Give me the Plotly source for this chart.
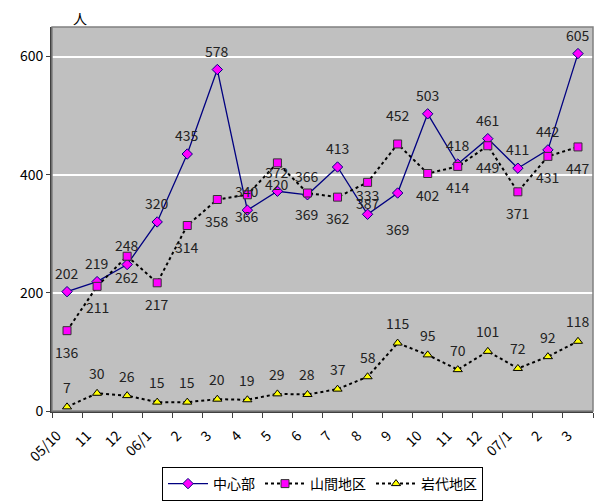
import plotly.graph_objects as go

# Monthly counts, Oct 2005 – Mar 2007
months = ["05/10", "11", "12", "06/1", "2", "3", "4", "5", "6", "7", "8", "9",
          "10", "11", "12", "07/1", "2", "3"]
center = [202, 219, 248, 320, 435, 578, 340, 372, 366, 413, 333, 369,
          503, 418, 461, 411, 442, 605]
mountain = [136, 211, 262, 217, 314, 358, 366, 420, 369, 362, 387, 452,
            402, 414, 449, 371, 431, 447]
iwashiro = [7, 30, 26, 15, 15, 20, 19, 29, 28, 37, 58, 115,
            95, 70, 101, 72, 92, 118]

FONT = "Noto Sans CJK JP"
xs = list(range(len(months)))

fig = go.Figure()
fig.add_trace(go.Scatter(
    x=xs, y=center, name="中心部", mode="lines+markers",
    line=dict(color="#000080", width=1.3),
    marker=dict(symbol="diamond", size=8, color="#FF00FF",
                line=dict(color="#000080", width=1)),
))
fig.add_trace(go.Scatter(
    x=xs, y=mountain, name="山間地区", mode="lines+markers",
    line=dict(color="#000000", width=2, dash="dot"),
    marker=dict(symbol="square", size=8, color="#FF00FF",
                line=dict(color="#333333", width=1)),
))
fig.add_trace(go.Scatter(
    x=xs, y=iwashiro, name="岩代地区", mode="lines+markers",
    line=dict(color="#000000", width=2, dash="dot"),
    marker=dict(symbol="triangle-up", size=8, color="#FFFF00",
                line=dict(color="#000000", width=1)),
))

# value labels: 中心部 above (one below), 山間地区 below (one above), 岩代地区 above
center_shift = [19] * len(center)
center_shift[11] = -36
mountain_shift = [-21] * len(mountain)
mountain_shift[11] = 29
annotations = []
for series, shifts in ((center, center_shift), (mountain, mountain_shift),
                       (iwashiro, [20] * len(iwashiro))):
    for x, v, s in zip(xs, series, shifts):
        annotations.append(dict(
            x=x, y=v, text=str(v), showarrow=False, yshift=s,
            font=dict(family=FONT, size=14, color="#222222"),
        ))

annotations.append(dict(
    xref="paper", yref="paper", x=0.052, y=1.023, text="人",
    showarrow=False, xanchor="center", yanchor="middle",
    font=dict(family=FONT, size=14, color="#000000"),
))

fig.update_layout(
    width=596, height=501,
    margin=dict(l=52, r=3, t=27, b=90, autoexpand=False),
    paper_bgcolor="#FFFFFF",
    plot_bgcolor="#C0C0C0",
    font=dict(family=FONT, size=14, color="#000000"),
    annotations=annotations,
    showlegend=True,
    legend=dict(
        orientation="h", x=0.5, xanchor="center",
        yref="container", y=0.0, yanchor="bottom",
        bgcolor="#FFFFFF", bordercolor="#000000", borderwidth=1,
        font=dict(family=FONT, size=14, color="#000000"),
        itemwidth=40, tracegroupgap=0,
    ),
    xaxis=dict(
        range=[-0.5, len(months) - 0.5],
        tickmode="array", tickvals=xs, ticktext=months,
        tickangle=-45, ticks="outside", ticklen=9,
        tickcolor="rgba(0,0,0,0)", ticklabelshift=-10,
        tickfont=dict(family=FONT, size=14, color="#000000"),
        minor=dict(tickmode="linear", tick0=-0.5, dtick=1,
                   ticks="outside", ticklen=5, tickcolor="#404040",
                   showgrid=False),
        showgrid=False, zeroline=False, automargin=False,
        showline=True, linecolor="#404040", linewidth=2, mirror=False,
    ),
    yaxis=dict(
        range=[0, 650], tickvals=[0, 200, 400, 600],
        ticks="outside", ticklen=4, tickcolor="#404040",
        tickfont=dict(family=FONT, size=14, color="#000000"),
        showgrid=True, gridcolor="#FFFFFF", gridwidth=1.5,
        zeroline=False, automargin=False,
        showline=True, linecolor="#404040", linewidth=2,
    ),
    shapes=[dict(type="rect", xref="paper", yref="paper", x0=0, y0=0,
                 x1=1, y1=1, line=dict(color="#808080", width=1.5),
                 layer="above")],
)

fig.write_html("out.html")
